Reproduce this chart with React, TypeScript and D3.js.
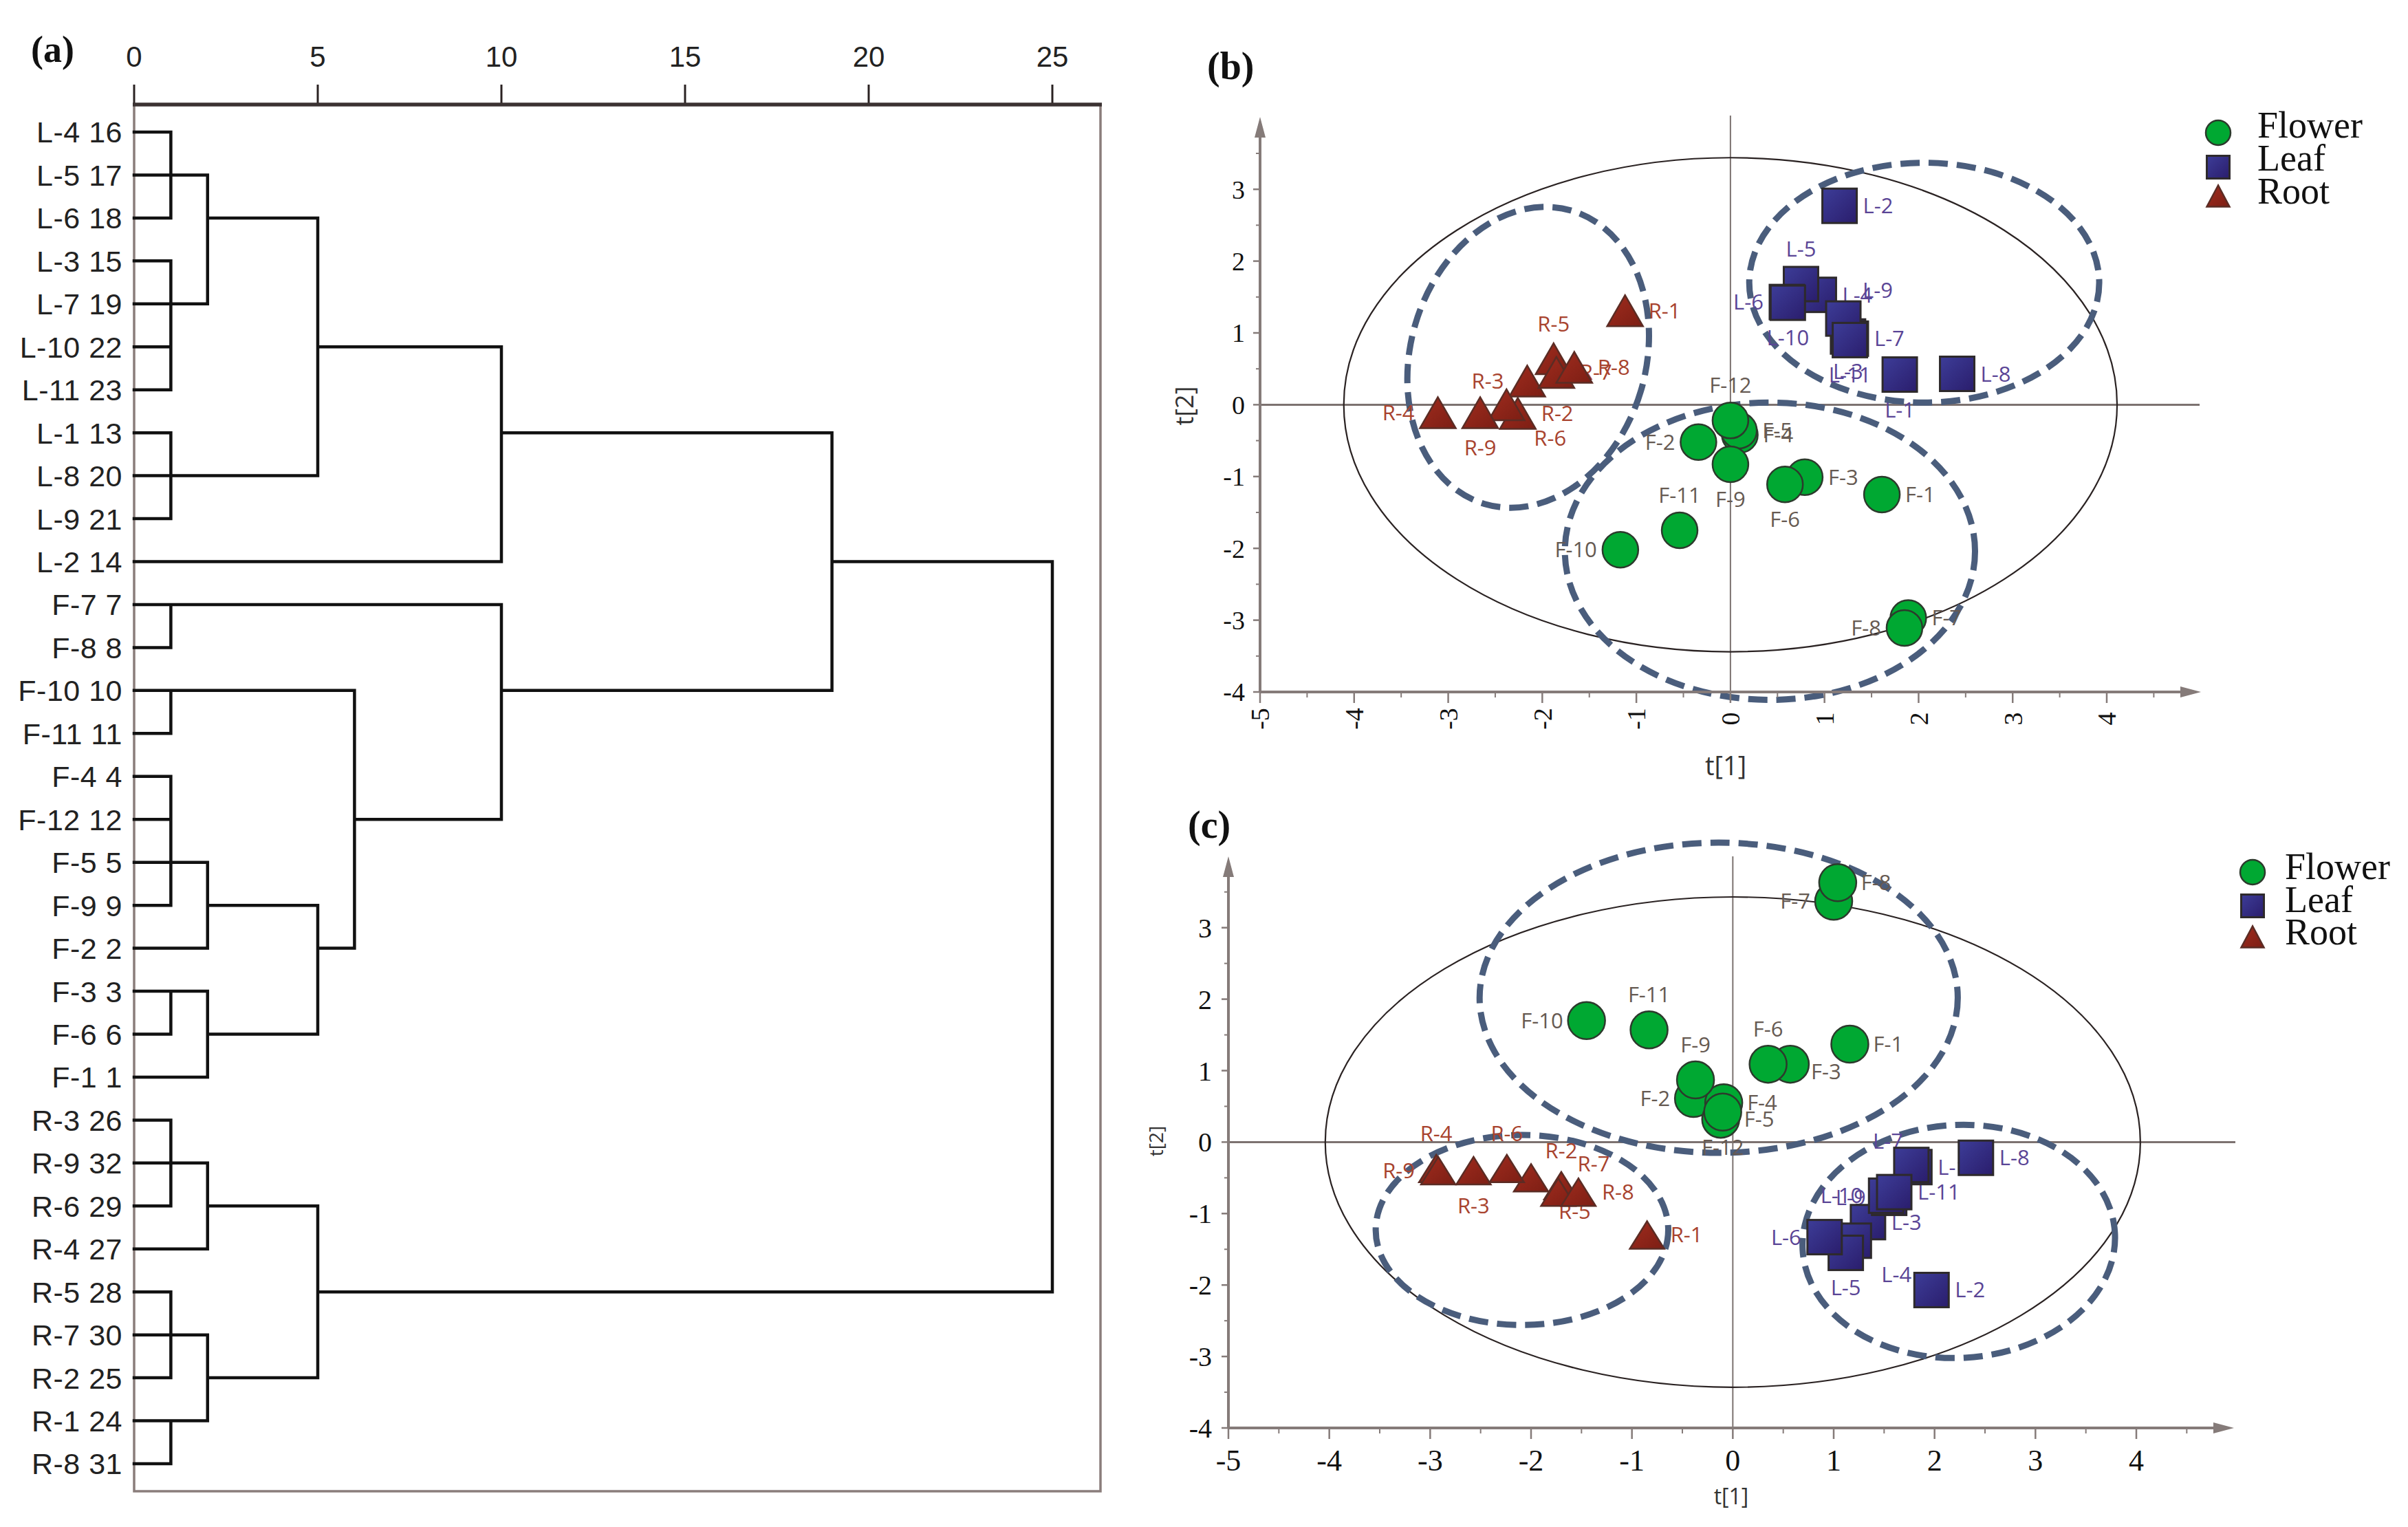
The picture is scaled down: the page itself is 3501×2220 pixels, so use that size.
import React from 'react';
import * as d3 from 'd3';

// ---------------- Panel (a) dendrogram data ----------------
const dendroLeaves: [string, number][] = [
  ['L-4', 16], ['L-5', 17], ['L-6', 18], ['L-3', 15], ['L-7', 19], ['L-10', 22], ['L-11', 23],
  ['L-1', 13], ['L-8', 20], ['L-9', 21], ['L-2', 14],
  ['F-7', 7], ['F-8', 8], ['F-10', 10], ['F-11', 11], ['F-4', 4], ['F-12', 12], ['F-5', 5],
  ['F-9', 9], ['F-2', 2], ['F-3', 3], ['F-6', 6], ['F-1', 1],
  ['R-3', 26], ['R-9', 32], ['R-6', 29], ['R-4', 27], ['R-5', 28], ['R-7', 30], ['R-2', 25],
  ['R-1', 24], ['R-8', 31],
];
// merges: id, rescaled distance, row where the cluster line leaves, members
const dendroNodes: { id: string; h: number; row: number; kids: string[] }[] = [
  { id: 'A', h: 1, row: 1, kids: ['L-4', 'L-6'] },
  { id: 'C', h: 1, row: 4, kids: ['L-3', 'L-7', 'L-10', 'L-11'] },
  { id: 'B', h: 2, row: 2, kids: ['A', 'L-5', 'C'] },
  { id: 'E', h: 1, row: 8, kids: ['L-1', 'L-8', 'L-9'] },
  { id: 'D', h: 5, row: 5, kids: ['B', 'E'] },
  { id: 'G', h: 10, row: 7, kids: ['D', 'L-2'] },
  { id: 'H', h: 1, row: 11, kids: ['F-7', 'F-8'] },
  { id: 'I', h: 1, row: 13, kids: ['F-10', 'F-11'] },
  { id: 'J', h: 1, row: 17, kids: ['F-4', 'F-12', 'F-5', 'F-9'] },
  { id: 'K', h: 2, row: 18, kids: ['J', 'F-2'] },
  { id: 'Lc', h: 1, row: 20, kids: ['F-3', 'F-6'] },
  { id: 'M', h: 2, row: 21, kids: ['Lc', 'F-1'] },
  { id: 'N', h: 5, row: 19, kids: ['K', 'M'] },
  { id: 'O', h: 6, row: 16, kids: ['I', 'N'] },
  { id: 'P', h: 10, row: 13, kids: ['H', 'O'] },
  { id: 'Q', h: 19, row: 10, kids: ['G', 'P'] },
  { id: 'R1', h: 1, row: 24, kids: ['R-3', 'R-9', 'R-6'] },
  { id: 'R2', h: 2, row: 25, kids: ['R1', 'R-4'] },
  { id: 'R3', h: 1, row: 28, kids: ['R-5', 'R-7', 'R-2'] },
  { id: 'R4', h: 1, row: 30, kids: ['R-1', 'R-8'] },
  { id: 'R5', h: 2, row: 29, kids: ['R3', 'R4'] },
  { id: 'R6', h: 5, row: 27, kids: ['R2', 'R5'] },
  { id: 'ROOT', h: 25, row: 18, kids: ['Q', 'R6'] },
];
const distanceTicks = [0, 5, 10, 15, 20, 25];

// ---------------- Panel (b) PCA scores ----------------
type Pt = { name: string; t1: number; t2: number; pos: string };
const flowerB: Pt[] = [
  { name: 'F-1', t1: 1.61, t2: -1.25, pos: 'r' },
  { name: 'F-2', t1: -0.34, t2: -0.52, pos: 'l' },
  { name: 'F-3', t1: 0.79, t2: -1.01, pos: 'r' },
  { name: 'F-4', t1: 0.10, t2: -0.42, pos: 'r' },
  { name: 'F-5', t1: 0.09, t2: -0.36, pos: 'r' },
  { name: 'F-6', t1: 0.58, t2: -1.11, pos: 'b' },
  { name: 'F-7', t1: 1.89, t2: -2.97, pos: 'r' },
  { name: 'F-8', t1: 1.85, t2: -3.11, pos: 'l' },
  { name: 'F-9', t1: 0.0, t2: -0.83, pos: 'b' },
  { name: 'F-10', t1: -1.17, t2: -2.02, pos: 'l' },
  { name: 'F-11', t1: -0.54, t2: -1.75, pos: 't' },
  { name: 'F-12', t1: 0.0, t2: -0.22, pos: 't' },
];
const leafB: Pt[] = [
  { name: 'L-1', t1: 1.80, t2: 0.42, pos: 'b' },
  { name: 'L-2', t1: 1.16, t2: 2.77, pos: 'r' },
  { name: 'L-3', t1: 1.25, t2: 0.95, pos: 'b' },
  { name: 'L-4', t1: 0.94, t2: 1.53, pos: 'r' },
  { name: 'L-5', t1: 0.75, t2: 1.68, pos: 't' },
  { name: 'L-6', t1: 0.60, t2: 1.43, pos: 'l' },
  { name: 'L-7', t1: 1.28, t2: 0.92, pos: 'r' },
  { name: 'L-8', t1: 2.41, t2: 0.43, pos: 'r' },
  { name: 'L-9', t1: 1.20, t2: 1.20, pos: 'tr' },
  { name: 'L-10', t1: 0.61, t2: 1.42, pos: 'b' },
  { name: 'L-11', t1: 1.27, t2: 0.90, pos: 'b' },
];
const rootB: Pt[] = [
  { name: 'R-1', t1: -1.12, t2: 1.31, pos: 'r' },
  { name: 'R-2', t1: -2.26, t2: -0.12, pos: 'r' },
  { name: 'R-3', t1: -2.16, t2: 0.33, pos: 'l' },
  { name: 'R-4', t1: -3.11, t2: -0.11, pos: 'l' },
  { name: 'R-5', t1: -1.88, t2: 0.64, pos: 't' },
  { name: 'R-6', t1: -2.38, t2: 0.0, pos: 'br' },
  { name: 'R-7', t1: -1.85, t2: 0.45, pos: 'r' },
  { name: 'R-8', t1: -1.66, t2: 0.52, pos: 'r' },
  { name: 'R-9', t1: -2.66, t2: -0.11, pos: 'b' },
];
const hotellingB = { rx: 4.11, ry: 3.44 };
const groupEllipsesB = [
  { cx: -2.15, cy: 0.66, rx: 1.25, ry: 2.13, rot: 16.5 },
  { cx: 2.06, cy: 1.70, rx: 1.86, ry: 1.67, rot: 0 },
  { cx: 0.42, cy: -2.04, rx: 2.18, ry: 2.07, rot: 0 },
];

// ---------------- Panel (c) PLS-DA scores ----------------
const flowerC: Pt[] = [
  { name: 'F-1', t1: 1.16, t2: 1.37, pos: 'r' },
  { name: 'F-2', t1: -0.39, t2: 0.61, pos: 'l' },
  { name: 'F-3', t1: 0.57, t2: 1.09, pos: 'rb' },
  { name: 'F-4', t1: -0.09, t2: 0.55, pos: 'r' },
  { name: 'F-5', t1: -0.12, t2: 0.32, pos: 'r' },
  { name: 'F-6', t1: 0.35, t2: 1.09, pos: 't' },
  { name: 'F-7', t1: 1.00, t2: 3.37, pos: 'l' },
  { name: 'F-8', t1: 1.04, t2: 3.63, pos: 'r' },
  { name: 'F-9', t1: -0.37, t2: 0.87, pos: 't' },
  { name: 'F-10', t1: -1.45, t2: 1.70, pos: 'l' },
  { name: 'F-11', t1: -0.83, t2: 1.57, pos: 't' },
  { name: 'F-12', t1: -0.10, t2: 0.42, pos: 'b' },
];
const leafC: Pt[] = [
  { name: 'L-1', t1: 1.80, t2: -0.35, pos: 'r' },
  { name: 'L-2', t1: 1.97, t2: -2.07, pos: 'r' },
  { name: 'L-3', t1: 1.34, t2: -1.12, pos: 'r' },
  { name: 'L-4', t1: 1.20, t2: -1.38, pos: 'br' },
  { name: 'L-5', t1: 1.12, t2: -1.55, pos: 'b' },
  { name: 'L-6', t1: 0.91, t2: -1.33, pos: 'l' },
  { name: 'L-7', t1: 1.77, t2: -0.32, pos: 'tl' },
  { name: 'L-8', t1: 2.41, t2: -0.22, pos: 'r' },
  { name: 'L-9', t1: 1.55, t2: -0.78, pos: 'l' },
  { name: 'L-10', t1: 1.52, t2: -0.75, pos: 'l' },
  { name: 'L-11', t1: 1.60, t2: -0.70, pos: 'r' },
];
const rootC: Pt[] = [
  { name: 'R-1', t1: -0.85, t2: -1.30, pos: 'r' },
  { name: 'R-2', t1: -1.70, t2: -0.61, pos: 't' },
  { name: 'R-3', t1: -2.57, t2: -0.40, pos: 'b' },
  { name: 'R-4', t1: -2.94, t2: -0.37, pos: 't' },
  { name: 'R-5', t1: -2.00, t2: -0.50, pos: 'br' },
  { name: 'R-6', t1: -2.24, t2: -0.37, pos: 't' },
  { name: 'R-7', t1: -1.73, t2: -0.70, pos: 'tr' },
  { name: 'R-8', t1: -1.53, t2: -0.70, pos: 'r' },
  { name: 'R-9', t1: -2.92, t2: -0.40, pos: 'l' },
];
const hotellingC = { rx: 4.04, ry: 3.43 };
const groupEllipsesC = [
  { cx: -0.14, cy: 2.02, rx: 2.37, ry: 2.17, rot: 0 },
  { cx: -2.09, cy: -1.23, rx: 1.45, ry: 1.33, rot: 0 },
  { cx: 2.24, cy: -1.39, rx: 1.55, ry: 1.63, rot: -3 },
];

const xTicks = [-5, -4, -3, -2, -1, 0, 1, 2, 3, 4];
const yTicks = [-4, -3, -2, -1, 0, 1, 2, 3];
const legendItems = ['Flower', 'Leaf', 'Root'];

// ---------------- drawing helpers ----------------
const SERIF = "'Liberation Serif', 'Times New Roman', serif";
const SANS = "'Liberation Sans', Arial, sans-serif";
const LABEL_FONT = "'Open Sans', 'Noto Sans', sans-serif";
const AXIS_GRAY = '#857b79';
const DASH = '#4a5d7c';

const seriesStyle: Record<string, { shape: string; fill: string; stroke: string; label: string }> = {
  Flower: { shape: 'circle', fill: '#00a832', stroke: '#2c3a2c', label: '#665a52' },
  Leaf: { shape: 'square', fill: 'url(#gLeaf)', stroke: '#2e2a2c', label: '#5a4596' },
  Root: { shape: 'triangle', fill: 'url(#gRoot)', stroke: '#5b2c24', label: '#a8432e' },
};

function Marker({ shape, x, y, s, fill, stroke, triH }: any) {
  if (shape === 'circle') return <circle cx={x} cy={y} r={s / 2} fill={fill} stroke={stroke} strokeWidth={2.5} />;
  if (shape === 'square')
    return <rect x={x - s / 2} y={y - s / 2} width={s} height={s} fill={fill} stroke={stroke} strokeWidth={3} />;
  const h = triH ?? s * 0.87;
  return (
    <polygon
      points={`${x},${y - h / 2} ${x - s / 2},${y + h / 2} ${x + s / 2},${y + h / 2}`}
      fill={fill}
      stroke={stroke}
      strokeWidth={2.5}
      strokeLinejoin="miter"
    />
  );
}

function labelProps(pos: string, x: number, y: number) {
  switch (pos) {
    case 'r': return { x: x + 34, y: y + 11, anchor: 'start' };
    case 'l': return { x: x - 34, y: y + 11, anchor: 'end' };
    case 't': return { x, y: y - 40, anchor: 'middle' };
    case 'b': return { x, y: y + 62, anchor: 'middle' };
    case 'tr': return { x: x + 28, y: y - 30, anchor: 'start' };
    case 'tl': return { x: x - 12, y: y - 24, anchor: 'end' };
    case 'br': return { x: x + 40, y: y + 60, anchor: 'start' };
    case 'rb': return { x: x + 30, y: y + 22, anchor: 'start' };
    default: return { x: x + 34, y: y + 11, anchor: 'start' };
  }
}

function ScatterPanel({ cfg, series, hot, groups }: any) {
  const x = d3.scaleLinear().domain([-5, 4]).range([cfg.x0, cfg.x1]);
  const y = d3.scaleLinear().domain([-4, 3]).range([cfg.yb, cfg.yt]);
  const kx = x(1) - x(0);
  const ky = y(0) - y(1);
  const minorX = d3.range(-4.5, 5, 1);
  const minorY = d3.range(-3.5, 3.6, 1);
  const all: any[] = [];
  series.forEach((s: any) => s.data.forEach((p: Pt) => all.push({ ...p, key: s.key })));
  return (
    <g>
      <line x1={x(0)} x2={x(0)} y1={cfg.vTop} y2={cfg.yb} stroke="#7c7270" strokeWidth={2} />
      <line x1={cfg.x0} x2={cfg.hRight} y1={y(0)} y2={y(0)} stroke="#7c7270" strokeWidth={3} />
      <ellipse cx={x(0)} cy={y(0)} rx={hot.rx * kx} ry={hot.ry * ky} fill="none" stroke="#2a2222" strokeWidth={2.2} />
      {groups.map((g: any, i: number) => (
        <ellipse
          key={i}
          cx={x(g.cx)}
          cy={y(g.cy)}
          rx={g.rx * kx}
          ry={g.ry * ky}
          transform={`rotate(${g.rot} ${x(g.cx)} ${y(g.cy)})`}
          fill="none"
          stroke={DASH}
          strokeWidth={9}
          strokeDasharray="28 13"
        />
      ))}
      <line x1={cfg.x0} x2={cfg.x0} y1={cfg.yb} y2={cfg.arrowTop + 20} stroke={AXIS_GRAY} strokeWidth={4} />
      <polygon points={`${cfg.x0},${cfg.arrowTop} ${cfg.x0 - 8},${cfg.arrowTop + 30} ${cfg.x0 + 8},${cfg.arrowTop + 30}`} fill={AXIS_GRAY} />
      <line x1={cfg.x0} x2={cfg.arrowRight - 20} y1={cfg.yb} y2={cfg.yb} stroke={AXIS_GRAY} strokeWidth={4} />
      <polygon points={`${cfg.arrowRight},${cfg.yb} ${cfg.arrowRight - 30},${cfg.yb - 8} ${cfg.arrowRight - 30},${cfg.yb + 8}`} fill={AXIS_GRAY} />
      {xTicks.map((t) => (
        <line key={'xt' + t} x1={x(t)} x2={x(t)} y1={cfg.yb} y2={cfg.yb + 16} stroke={AXIS_GRAY} strokeWidth={2.5} />
      ))}
      {minorX.map((t) => (
        <line key={'xm' + t} x1={x(t)} x2={x(t)} y1={cfg.yb} y2={cfg.yb + 8} stroke={AXIS_GRAY} strokeWidth={2} />
      ))}
      {yTicks.map((t) => (
        <line key={'yt' + t} x1={cfg.x0 - 10} x2={cfg.x0} y1={y(t)} y2={y(t)} stroke={AXIS_GRAY} strokeWidth={2.5} />
      ))}
      {minorY.map((t) => (
        <line key={'ym' + t} x1={cfg.x0 - 6} x2={cfg.x0} y1={y(t)} y2={y(t)} stroke={AXIS_GRAY} strokeWidth={2} />
      ))}
      {xTicks.map((t) =>
        cfg.rotX ? (
          <text
            key={'xl' + t}
            transform={`translate(${x(t)},${cfg.xLabY}) rotate(-90)`}
            textAnchor="middle"
            dy="0.35em"
            fontFamily={SERIF}
            fontSize={cfg.xFont}
            fill="#111"
          >
            {t < 0 ? '-' + Math.abs(t) : String(t)}
          </text>
        ) : (
          <text key={'xl' + t} x={x(t)} y={cfg.xLabY} textAnchor="middle" fontFamily={SERIF} fontSize={cfg.xFont} fill="#111">
            {t < 0 ? '-' + Math.abs(t) : String(t)}
          </text>
        )
      )}
      {yTicks.map((t) => (
        <text key={'yl' + t} x={cfg.yLabX} y={y(t)} dy="0.35em" textAnchor="end" fontFamily={SERIF} fontSize={cfg.yFont} fill="#111">
          {t < 0 ? '-' + Math.abs(t) : String(t)}
        </text>
      ))}
      <text x={cfg.t1x} y={cfg.t1y} textAnchor="middle" fontFamily={LABEL_FONT} fontSize={cfg.t1Font} fill="#333">
        t[1]
      </text>
      <text
        transform={`translate(${cfg.t2x},${cfg.t2y}) rotate(-90)`}
        textAnchor="middle"
        dy="0.35em"
        fontFamily={LABEL_FONT}
        fontSize={cfg.t2Font}
        fill="#333"
      >
        t[2]
      </text>
      {all.map((p, i) => {
        const px = x(p.t1);
        const py = y(p.t2);
        const lp = labelProps(p.pos, px, py);
        return (
          <text
            key={'lab' + i}
            x={lp.x}
            y={lp.y}
            textAnchor={lp.anchor as any}
            fontFamily={LABEL_FONT}
            fontSize={31}
            fill={seriesStyle[p.key].label}
          >
            {p.name}
          </text>
        );
      })}
      {all.map((p, i) => {
        const st = seriesStyle[p.key];
        return (
          <Marker
            key={'m' + i}
            shape={st.shape}
            x={x(p.t1)}
            y={y(p.t2)}
            s={st.shape === 'circle' ? cfg.circ : st.shape === 'square' ? cfg.sq : cfg.triW}
            triH={cfg.triH}
            fill={st.fill}
            stroke={st.stroke}
          />
        );
      })}
      {legendItems.map((k, i) => {
        const st = seriesStyle[k];
        return (
          <g key={'lg' + k}>
            <Marker shape={st.shape} x={cfg.lgX} y={cfg.lgY[i]} s={st.shape === 'circle' ? 36 : 33} triH={31} fill={st.fill} stroke={st.stroke} />
            <text x={cfg.lgTx} y={cfg.lgBy[i]} fontFamily={SERIF} fontSize={54} fill="#111">
              {k}
            </text>
          </g>
        );
      })}
      <text x={cfg.tagX} y={cfg.tagY} fontFamily={SERIF} fontWeight="bold" fontSize={56} fill="#111">
        {cfg.tag}
      </text>
    </g>
  );
}

function Dendrogram() {
  const xD = d3.scaleLinear().domain([0, 25]).range([195, 1530]);
  const yD = d3.scaleLinear().domain([0, 31]).range([192, 2128]);
  const info: Record<string, { h: number; row: number }> = {};
  dendroLeaves.forEach(([n], i) => (info[n] = { h: 0, row: i }));
  dendroNodes.forEach((nd) => (info[nd.id] = { h: nd.h, row: nd.row }));
  const segs: string[] = [];
  dendroNodes.forEach((nd) => {
    const rows = nd.kids.map((k) => info[k].row);
    nd.kids.forEach((k) => {
      const c = info[k];
      segs.push(`M${xD(c.h)},${yD(c.row)}H${xD(nd.h)}`);
    });
    segs.push(`M${xD(nd.h)},${yD(d3.min(rows)!)}V${yD(d3.max(rows)!)}`);
  });
  return (
    <g>
      <text x={45} y={90} fontFamily={SERIF} fontWeight="bold" fontSize={54} fill="#111">
        (a)
      </text>
      {distanceTicks.map((t) => (
        <g key={t}>
          <text x={xD(t)} y={97} textAnchor="middle" fontFamily={SANS} fontSize={42} fill="#222">
            {t}
          </text>
          <line x1={xD(t)} x2={xD(t)} y1={123} y2={152} stroke="#2a2222" strokeWidth={3} />
        </g>
      ))}
      <rect x={195} y={152} width={1405} height={2016} fill="none" stroke="#8a7d7b" strokeWidth={3.5} />
      <line x1={193} x2={1602} y1={152} y2={152} stroke="#3b3232" strokeWidth={5.5} />
      <path d={segs.join('')} fill="none" stroke="#111" strokeWidth={4.5} strokeLinecap="square" />
      {dendroLeaves.map(([n, num], i) => (
        <text
          key={n}
          x={178}
          y={yD(i)}
          dy="0.36em"
          textAnchor="end"
          fontFamily={SANS}
          fontSize={43}
          letterSpacing={0.5}
          fill="#222"
        >
          {`${n} ${num}`}
        </text>
      ))}
    </g>
  );
}

const cfgB = {
  x0: 1832, x1: 3063, yb: 1006, yt: 275.2, vTop: 168, hRight: 3198, arrowTop: 170, arrowRight: 3200,
  rotX: true, xLabY: 1045, xFont: 38, yLabX: 1810, yFont: 38,
  t1x: 2509, t1y: 1127, t1Font: 38, t2x: 1722, t2y: 590, t2Font: 36,
  circ: 52, sq: 50, triW: 52, triH: 45,
  lgX: 3225, lgY: [193, 243, 285], lgTx: 3282, lgBy: [200, 248, 296],
  tag: '(b)', tagX: 1755, tagY: 115,
};
const cfgC = {
  x0: 1786, x1: 3106, yb: 2076, yt: 1348.7, vTop: 1245, hRight: 3250, arrowTop: 1245, arrowRight: 3248,
  rotX: false, xLabY: 2138, xFont: 44, yLabX: 1762, yFont: 40,
  t1x: 2517, t1y: 2187, t1Font: 32, t2x: 1681, t2y: 1659, t2Font: 28,
  circ: 54, sq: 50, triW: 50, triH: 40,
  lgX: 3275, lgY: [1268, 1317, 1362], lgTx: 3322, lgBy: [1278, 1326, 1373],
  tag: '(c)', tagX: 1727, tagY: 1218,
};

export default function App() {
  return (
    <svg
      width={3501}
      height={2220}
      viewBox="0 0 3501 2220"
      style={{ position: 'absolute', left: 0, top: 0, display: 'block', background: '#fff' }}
    >
      <defs>
        <linearGradient id="gLeaf" x1="0" y1="0" x2="1" y2="1">
          <stop offset="0" stopColor="#3d3d98" />
          <stop offset="1" stopColor="#2a1d6c" />
        </linearGradient>
        <linearGradient id="gRoot" x1="0" y1="0" x2="1" y2="1">
          <stop offset="0" stopColor="#a02c1e" />
          <stop offset="1" stopColor="#7c1e14" />
        </linearGradient>
      </defs>
      <rect x={0} y={0} width={3501} height={2220} fill="#fff" />
      <Dendrogram />
      <ScatterPanel
        cfg={cfgB}
        series={[
          { key: 'Flower', data: flowerB },
          { key: 'Leaf', data: leafB },
          { key: 'Root', data: rootB },
        ]}
        hot={hotellingB}
        groups={groupEllipsesB}
      />
      <ScatterPanel
        cfg={cfgC}
        series={[
          { key: 'Flower', data: flowerC },
          { key: 'Leaf', data: leafC },
          { key: 'Root', data: rootC },
        ]}
        hot={hotellingC}
        groups={groupEllipsesC}
      />
    </svg>
  );
}
